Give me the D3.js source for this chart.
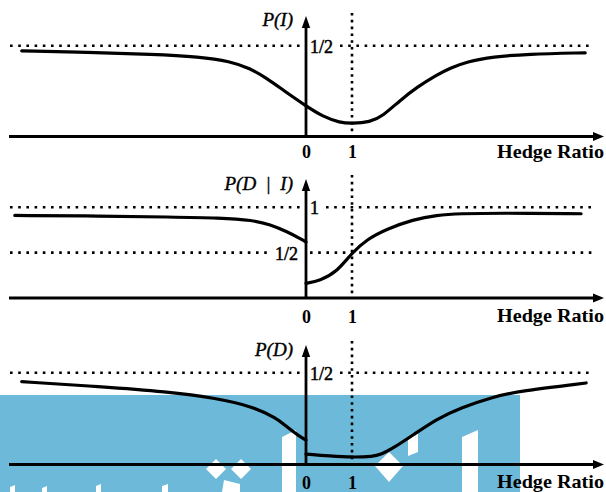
<!DOCTYPE html>
<html>
<head>
<meta charset="utf-8">
<script src="https://cdn.jsdelivr.net/npm/d3@7"></script>
<style>
  html, body { margin: 0; padding: 0; background: #fff; }
  svg { display: block; }
  .serif { font-family: "Liberation Serif", "Times New Roman", serif; white-space: pre; }
</style>
</head>
<body>
<svg id="chart" width="606" height="492"></svg>
<script>
// Hedge ratio values marked on every horizontal axis
const hedgeTicks = [0, 1];

// P(I): probability of intervention against the hedge ratio
const probI = [
  [-6.18, 0.472], [-4.48, 0.461], [-3.39, 0.454], [-2.30, 0.439], [-1.65, 0.414],
  [-1.22, 0.376], [-0.85, 0.320], [-0.50, 0.256], [0.00, 0.168], [0.37, 0.109],
  [0.74, 0.076], [1.00, 0.071], [1.39, 0.079], [1.67, 0.113], [2.04, 0.198],
  [2.41, 0.271], [2.84, 0.339], [3.13, 0.376], [3.49, 0.412], [4.07, 0.439],
  [4.80, 0.454], [6.07, 0.461]
];

// P(D | I): two branches, split at a hedge ratio of zero
const probDgivenINeg = [
  [-6.33, 0.910], [-4.48, 0.904], [-2.96, 0.893], [-1.87, 0.884], [-1.15, 0.858],
  [-0.78, 0.810], [-0.41, 0.731], [-0.09, 0.645], [0.00, 0.617]
];
const probDgivenIPos = [
  [0.00, 0.162], [0.30, 0.192], [0.67, 0.285], [1.00, 0.500], [1.32, 0.645],
  [1.75, 0.760], [2.33, 0.865], [2.84, 0.915], [3.35, 0.930], [4.22, 0.937],
  [5.98, 0.929]
];

// P(D): two branches, split at a hedge ratio of zero
const probDNeg = [
  [-6.18, 0.451], [-4.48, 0.424], [-3.03, 0.397], [-1.94, 0.361], [-1.15, 0.315],
  [-0.64, 0.252], [-0.42, 0.206], [-0.13, 0.151], [0.00, 0.133]
];
const probDPos = [
  [0.00, 0.057], [0.52, 0.046], [1.02, 0.039], [1.46, 0.044], [1.61, 0.052],
  [1.89, 0.088], [2.33, 0.161], [2.84, 0.248], [3.35, 0.308], [4.07, 0.369],
  [4.65, 0.400], [6.09, 0.444]
];

// Reference levels (dotted) and their labels, per panel
const refLevelsI = [0.5];
const refLabelsI = ["1/2"];
const refLevelsDI = [1, 0.5];
const refLabelsDI = ["1", "1/2"];
const refLevelsD = [0.5];
const refLabelsD = ["1/2"];

const yTitles = ["P(I)", "P(D  |  I)", "P(D)"];
const xTitle = "Hedge Ratio";

// ---------------------------------------------------------------------------
const svg = d3.select("#chart");

// Shared hedge-ratio scale (all three panels are vertically aligned)
const x = d3.scaleLinear().domain([0, 1]).range([306, 352]);
const xLeftEnd = 9, xRightEnd = 604;

// Backdrop band at the bottom of the figure
const band = svg.append("g").attr("class", "band");
band.append("rect").attr("x", 0).attr("y", 395).attr("width", 520).attr("height", 97)
  .attr("fill", "#6cb9d9");
const bandShapes = [
  [[282, 437], [296, 430], [296, 492], [282, 492]],
  [[462, 437], [478, 430], [478, 492], [462, 492]],
  [[389, 452], [403, 466], [389, 482], [375, 466]],
  [[216, 459], [226, 469], [216, 479], [206, 469]],
  [[241, 459], [251, 469], [241, 479], [231, 469]],
  [[224, 480], [240, 484], [240, 492], [222, 492]],
  [[408, 440], [418, 433], [418, 452], [408, 456]],
  [[10, 487], [15, 485], [15, 492], [10, 492]],
  [[42, 488], [47, 486], [47, 492], [42, 492]],
  [[96, 486], [101, 484], [101, 492], [96, 492]],
  [[162, 486], [168, 484], [168, 492], [162, 492]]
];
band.selectAll("polygon").data(bandShapes).join("polygon")
  .attr("points", d => d.map(p => p.join(",")).join(" "))
  .attr("fill", "#fff");

// Panel layout
const panels = [
  {
    y: d3.scaleLinear().domain([0, 0.5]).range([136.5, 45.7]),
    series: [probI],
    levels: refLevelsI, labels: refLabelsI, labelSide: ["right"],
    title: yTitles[0], titleY: 26,
    axisTop: 16, vTop: 13,
    tickY: 158, xTitleY: 158
  },
  {
    y: d3.scaleLinear().domain([0, 1]).range([298, 207.3]),
    series: [probDgivenINeg, probDgivenIPos],
    levels: refLevelsDI, labels: refLabelsDI, labelSide: ["right", "left"],
    title: yTitles[1], titleY: 190,
    axisTop: 179, vTop: 175,
    tickY: 323, xTitleY: 322
  },
  {
    y: d3.scaleLinear().domain([0, 0.5]).range([464.5, 372.7]),
    series: [probDNeg, probDPos],
    levels: refLevelsD, labels: refLabelsD, labelSide: ["right"],
    title: yTitles[2], titleY: 356,
    axisTop: 345, vTop: 341,
    tickY: 489, xTitleY: 488
  }
];

const line = d3.line()
  .x(d => x(d[0]))
  .curve(d3.curveBasis);

const dotH = "2.6 5.6";
const dotV = "2.6 4.2";

panels.forEach(p => {
  const g = svg.append("g");
  const base = p.y(0);
  const x0 = x(0);

  // Dotted reference levels, broken around their labels
  p.levels.forEach((lv, i) => {
    const yy = p.y(lv);
    const side = p.labelSide[i];
    const label = p.labels[i];
    const lw = label.length > 1 ? 26 : 12;
    const segs = side === "right"
      ? [[10, x0 - 3], [x0 + lw + 8, 592]]
      : [[10, x0 - lw - 12], [x0 + 4, 592]];
    segs.forEach(s => {
      g.append("line")
        .attr("x1", s[0]).attr("x2", s[1]).attr("y1", yy).attr("y2", yy)
        .attr("stroke", "#000").attr("stroke-width", 2.6)
        .attr("stroke-dasharray", dotH);
    });
    g.append("text").attr("class", "serif")
      .attr("x", side === "right" ? x0 + 4 : x0 - 8)
      .attr("y", yy + 7)
      .attr("text-anchor", side === "right" ? "start" : "end")
      .attr("font-size", 18)
      .attr("fill", "#000").attr("stroke", "#000").attr("stroke-width", 0.5)
      .text(label);
  });

  // Dotted vertical at hedge ratio 1
  g.append("line")
    .attr("x1", x(1)).attr("x2", x(1)).attr("y1", p.vTop).attr("y2", base)
    .attr("stroke", "#000").attr("stroke-width", 2.6)
    .attr("stroke-dasharray", dotV);

  // Horizontal axis with arrow
  g.append("line")
    .attr("x1", xLeftEnd).attr("x2", xRightEnd - 8).attr("y1", base).attr("y2", base)
    .attr("stroke", "#000").attr("stroke-width", 2.8);
  g.append("path")
    .attr("d", `M${xRightEnd},${base} L${xRightEnd - 11},${base - 4.5} L${xRightEnd - 11},${base + 4.5} Z`)
    .attr("fill", "#000");

  // Vertical axis with arrow
  g.append("line")
    .attr("x1", x0).attr("x2", x0).attr("y1", base).attr("y2", p.axisTop + 8)
    .attr("stroke", "#000").attr("stroke-width", 2.8);
  g.append("path")
    .attr("d", `M${x0},${p.axisTop} L${x0 - 4.2},${p.axisTop + 12} L${x0 + 4.2},${p.axisTop + 12} Z`)
    .attr("fill", "#000");

  // Tick labels 0 and 1 through a bottom axis (no tick marks, no domain)
  const ax = g.append("g")
    .attr("transform", `translate(0,${p.tickY})`)
    .call(d3.axisBottom(x).tickValues(hedgeTicks).tickSize(0).tickPadding(0).tickFormat(d3.format("d")));
  ax.select(".domain").remove();
  ax.selectAll("text")
    .attr("dy", 0).attr("y", 0)
    .attr("class", "serif")
    .attr("font-family", "Liberation Serif, serif")
    .attr("font-size", 18).attr("font-weight", "bold").attr("fill", "#000");

  // Axis titles
  g.append("text").attr("class", "serif")
    .attr("x", xRightEnd).attr("y", p.xTitleY)
    .attr("text-anchor", "end")
    .attr("font-size", 19).attr("font-weight", "bold")
    .attr("textLength", 107).attr("lengthAdjust", "spacingAndGlyphs")
    .attr("fill", "#000")
    .text(xTitle);

  g.append("text").attr("class", "serif")
    .attr("x", 293).attr("y", p.titleY)
    .attr("text-anchor", "end")
    .attr("font-size", 19).attr("font-style", "italic")
    .attr("fill", "#000").attr("stroke", "#000").attr("stroke-width", 0.4)
    .text(p.title);

  // Curves (drawn last so they sit on top)
  const ln = line.y(d => p.y(d[1]));
  p.series.forEach(s => {
    g.append("path")
      .attr("d", ln(s))
      .attr("fill", "none").attr("stroke", "#000")
      .attr("stroke-width", 3.2).attr("stroke-linejoin", "round").attr("stroke-linecap", "round");
  });
});
</script>
</body>
</html>
